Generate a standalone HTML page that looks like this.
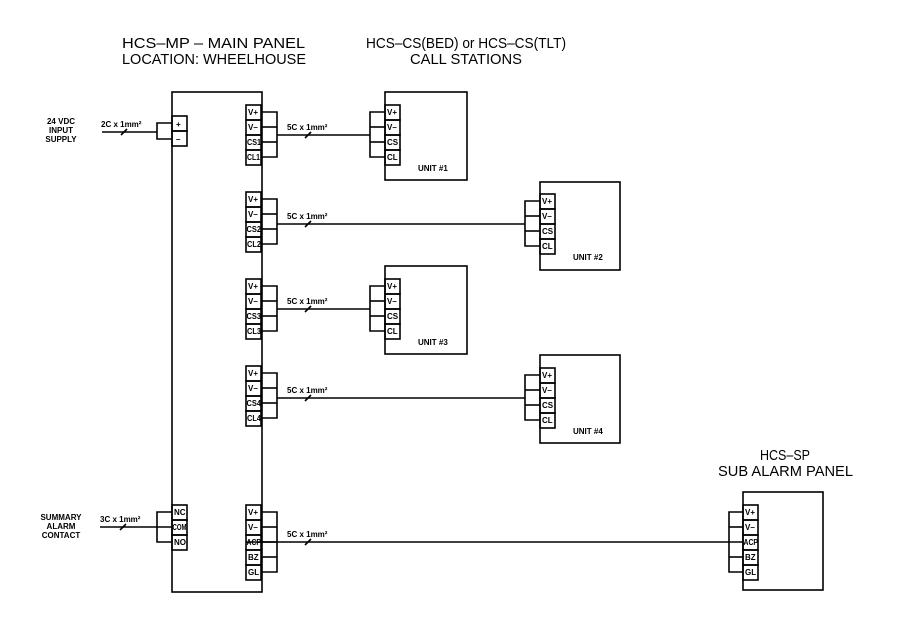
<!DOCTYPE html>
<html><head><meta charset="utf-8"><style>
html,body{margin:0;padding:0;background:#fff}
svg{display:block}
.t{font-family:"Liberation Sans",sans-serif;font-size:15px;fill:#000}
.s{font-family:"Liberation Sans",sans-serif;font-size:8px;font-weight:bold;fill:#000}
</style></head><body>
<svg width="900" height="636" viewBox="0 0 900 636" xmlns="http://www.w3.org/2000/svg">
<g stroke="#000" stroke-width="1.6" fill="none">
<rect x="172" y="92" width="90" height="500"/>
<rect x="172" y="116" width="15" height="15"/><rect x="172" y="131" width="15" height="15"/>
<polyline points="172,123 157,123 157,139 172,139"/>
<line x1="102" y1="132" x2="157" y2="132"/>
<line x1="121" y1="135" x2="127" y2="129"/>
<rect x="172" y="505" width="15" height="15"/><rect x="172" y="520" width="15" height="15"/><rect x="172" y="535" width="15" height="15"/>
<polyline points="172,512 157,512 157,542 172,542"/>
<line x1="100" y1="527" x2="172" y2="527"/>
<line x1="120" y1="530" x2="126" y2="524"/>

<rect x="246" y="105" width="15" height="15"/><rect x="246" y="120" width="15" height="15"/><rect x="246" y="135" width="15" height="15"/><rect x="246" y="150" width="15" height="15"/>
<polyline points="261,112 277,112 277,157 261,157"/><line x1="261" y1="127" x2="277" y2="127"/><line x1="261" y1="142" x2="277" y2="142"/>
<line x1="277" y1="135" x2="370" y2="135"/><line x1="305" y1="138" x2="311" y2="132"/>
<rect x="385" y="92" width="82" height="88"/>
<rect x="385" y="105" width="15" height="15"/><rect x="385" y="120" width="15" height="15"/><rect x="385" y="135" width="15" height="15"/><rect x="385" y="150" width="15" height="15"/>
<polyline points="385,112 370,112 370,157 385,157"/><line x1="370" y1="127" x2="385" y2="127"/><line x1="370" y1="142" x2="385" y2="142"/>

<rect x="246" y="192" width="15" height="15"/><rect x="246" y="207" width="15" height="15"/><rect x="246" y="222" width="15" height="15"/><rect x="246" y="237" width="15" height="15"/>
<polyline points="261,199 277,199 277,244 261,244"/><line x1="261" y1="214" x2="277" y2="214"/><line x1="261" y1="229" x2="277" y2="229"/>
<line x1="277" y1="224" x2="525" y2="224"/><line x1="305" y1="227" x2="311" y2="221"/>
<rect x="540" y="182" width="80" height="88"/>
<rect x="540" y="194" width="15" height="15"/><rect x="540" y="209" width="15" height="15"/><rect x="540" y="224" width="15" height="15"/><rect x="540" y="239" width="15" height="15"/>
<polyline points="540,201 525,201 525,246 540,246"/><line x1="525" y1="216" x2="540" y2="216"/><line x1="525" y1="231" x2="540" y2="231"/>

<rect x="246" y="279" width="15" height="15"/><rect x="246" y="294" width="15" height="15"/><rect x="246" y="309" width="15" height="15"/><rect x="246" y="324" width="15" height="15"/>
<polyline points="261,286 277,286 277,331 261,331"/><line x1="261" y1="301" x2="277" y2="301"/><line x1="261" y1="316" x2="277" y2="316"/>
<line x1="277" y1="309" x2="370" y2="309"/><line x1="305" y1="312" x2="311" y2="306"/>
<rect x="385" y="266" width="82" height="88"/>
<rect x="385" y="279" width="15" height="15"/><rect x="385" y="294" width="15" height="15"/><rect x="385" y="309" width="15" height="15"/><rect x="385" y="324" width="15" height="15"/>
<polyline points="385,286 370,286 370,331 385,331"/><line x1="370" y1="301" x2="385" y2="301"/><line x1="370" y1="316" x2="385" y2="316"/>

<rect x="246" y="366" width="15" height="15"/><rect x="246" y="381" width="15" height="15"/><rect x="246" y="396" width="15" height="15"/><rect x="246" y="411" width="15" height="15"/>
<polyline points="261,373 277,373 277,418 261,418"/><line x1="261" y1="388" x2="277" y2="388"/><line x1="261" y1="403" x2="277" y2="403"/>
<line x1="277" y1="398" x2="525" y2="398"/><line x1="305" y1="401" x2="311" y2="395"/>
<rect x="540" y="355" width="80" height="88"/>
<rect x="540" y="368" width="15" height="15"/><rect x="540" y="383" width="15" height="15"/><rect x="540" y="398" width="15" height="15"/><rect x="540" y="413" width="15" height="15"/>
<polyline points="540,375 525,375 525,420 540,420"/><line x1="525" y1="390" x2="540" y2="390"/><line x1="525" y1="405" x2="540" y2="405"/>

<rect x="246" y="505" width="15" height="15"/><rect x="246" y="520" width="15" height="15"/><rect x="246" y="535" width="15" height="15"/><rect x="246" y="550" width="15" height="15"/><rect x="246" y="565" width="15" height="15"/>
<polyline points="261,512 277,512 277,572 261,572"/><line x1="261" y1="527" x2="277" y2="527"/><line x1="261" y1="542" x2="277" y2="542"/><line x1="261" y1="557" x2="277" y2="557"/>
<line x1="246" y1="542" x2="743" y2="542"/><line x1="305" y1="545" x2="311" y2="539"/>
<rect x="743" y="492" width="80" height="98"/>
<rect x="743" y="505" width="15" height="15"/><rect x="743" y="520" width="15" height="15"/><rect x="743" y="535" width="15" height="15"/><rect x="743" y="550" width="15" height="15"/><rect x="743" y="565" width="15" height="15"/>
<polyline points="743,512 729,512 729,572 743,572"/><line x1="729" y1="527" x2="743" y2="527"/><line x1="729" y1="557" x2="743" y2="557"/>
</g>

<text class="t" x="122" y="48" textLength="183" lengthAdjust="spacingAndGlyphs">HCS–MP – MAIN PANEL</text>
<text class="t" x="122" y="64" textLength="184" lengthAdjust="spacingAndGlyphs">LOCATION: WHEELHOUSE</text>
<text class="t" x="366" y="48" textLength="200" lengthAdjust="spacingAndGlyphs">HCS–CS(BED) or HCS–CS(TLT)</text>
<text class="t" x="410" y="64" textLength="112" lengthAdjust="spacingAndGlyphs">CALL STATIONS</text>
<text class="t" x="760" y="460" textLength="50" lengthAdjust="spacingAndGlyphs">HCS–SP</text>
<text class="t" x="718" y="476" textLength="135" lengthAdjust="spacingAndGlyphs">SUB ALARM PANEL</text>

<text class="s" x="61" y="124" text-anchor="middle">24 VDC</text>
<text class="s" x="61" y="133" text-anchor="middle">INPUT</text>
<text class="s" x="61" y="142" text-anchor="middle">SUPPLY</text>
<text class="s" x="101" y="127">2C x 1mm²</text>
<text class="s" x="176" y="127">+</text><text class="s" x="176" y="142">–</text>
<text class="s" x="61" y="520" text-anchor="middle">SUMMARY</text>
<text class="s" x="61" y="529" text-anchor="middle">ALARM</text>
<text class="s" x="61" y="538" text-anchor="middle">CONTACT</text>
<text class="s" x="100" y="522">3C x 1mm²</text>
<text class="s" x="174" y="515">NC</text><text class="s" x="172.5" y="530" textLength="14" lengthAdjust="spacingAndGlyphs">COM</text><text class="s" x="174" y="545">NO</text>

<text class="s" x="248" y="115">V+</text><text class="s" x="248" y="130">V–</text><text class="s" x="247" y="145" textLength="14" lengthAdjust="spacingAndGlyphs">CS1</text><text class="s" x="247" y="160" textLength="13" lengthAdjust="spacingAndGlyphs">CL1</text>
<text class="s" x="248" y="202">V+</text><text class="s" x="248" y="217">V–</text><text class="s" x="246.5" y="232" textLength="14.5" lengthAdjust="spacingAndGlyphs">CS2</text><text class="s" x="247" y="247" textLength="14" lengthAdjust="spacingAndGlyphs">CL2</text>
<text class="s" x="248" y="289">V+</text><text class="s" x="248" y="304">V–</text><text class="s" x="246.5" y="319" textLength="14.5" lengthAdjust="spacingAndGlyphs">CS3</text><text class="s" x="247" y="334" textLength="14" lengthAdjust="spacingAndGlyphs">CL3</text>
<text class="s" x="248" y="376">V+</text><text class="s" x="248" y="391">V–</text><text class="s" x="246.5" y="406" textLength="14.5" lengthAdjust="spacingAndGlyphs">CS4</text><text class="s" x="247" y="421" textLength="14" lengthAdjust="spacingAndGlyphs">CL4</text>
<text class="s" x="248" y="515">V+</text><text class="s" x="248" y="530">V–</text><text class="s" x="246.5" y="545" textLength="14.5" lengthAdjust="spacingAndGlyphs">ACP</text><text class="s" x="248" y="560">BZ</text><text class="s" x="248" y="575">GL</text>

<text class="s" x="287" y="130">5C x 1mm²</text>
<text class="s" x="287" y="219">5C x 1mm²</text>
<text class="s" x="287" y="304">5C x 1mm²</text>
<text class="s" x="287" y="393">5C x 1mm²</text>
<text class="s" x="287" y="537">5C x 1mm²</text>

<text class="s" x="387" y="115">V+</text><text class="s" x="387" y="130">V–</text><text class="s" x="387" y="145">CS</text><text class="s" x="387" y="160">CL</text>
<text class="s" x="418" y="171">UNIT #1</text>
<text class="s" x="542" y="204">V+</text><text class="s" x="542" y="219">V–</text><text class="s" x="542" y="234">CS</text><text class="s" x="542" y="249">CL</text>
<text class="s" x="573" y="260">UNIT #2</text>
<text class="s" x="387" y="289">V+</text><text class="s" x="387" y="304">V–</text><text class="s" x="387" y="319">CS</text><text class="s" x="387" y="334">CL</text>
<text class="s" x="418" y="345">UNIT #3</text>
<text class="s" x="542" y="378">V+</text><text class="s" x="542" y="393">V–</text><text class="s" x="542" y="408">CS</text><text class="s" x="542" y="423">CL</text>
<text class="s" x="573" y="434">UNIT #4</text>
<text class="s" x="745" y="515">V+</text><text class="s" x="745" y="530">V–</text><text class="s" x="743.5" y="545" textLength="14.5" lengthAdjust="spacingAndGlyphs">ACP</text><text class="s" x="745" y="560">BZ</text><text class="s" x="745" y="575">GL</text>
</svg>
</body></html>
